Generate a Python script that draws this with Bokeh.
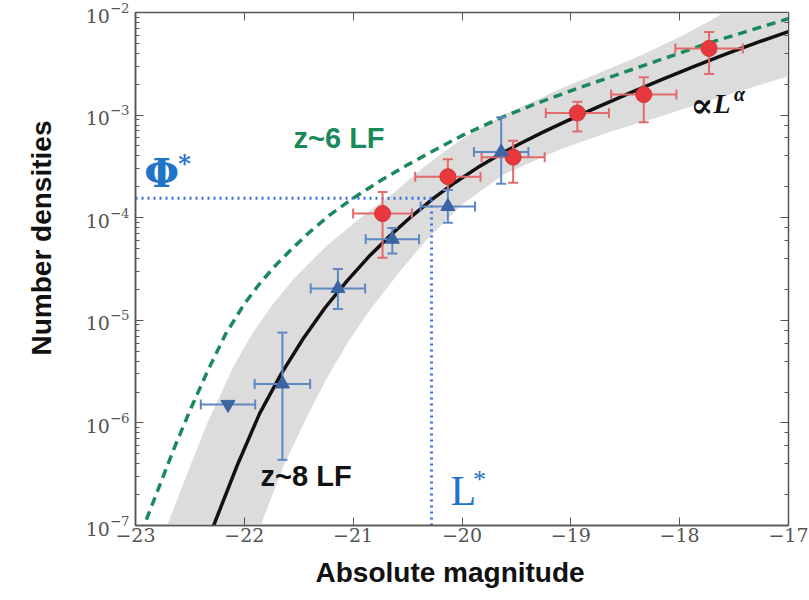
import numpy as np
from bokeh.plotting import figure
from bokeh.models import Range1d, FixedTicker, LogTicker, LinearAxis, LogAxis, Label, Title, CustomJSTickFormatter
from bokeh.embed import file_html
from bokeh.resources import INLINE

# ---------------- data ----------------
x_ticks = [-23, -22, -21, -20, -19, -18, -17]

# z~8 best-fit Schechter curve (magnitude, log10 number density)
fit8_mag = [-22.30, -22.26, -22.06, -21.86, -21.66, -21.46, -21.26, -21.06, -20.86, -20.66,
            -20.46, -20.26, -20.06, -19.86, -19.66, -19.46, -19.26, -19.06, -18.76, -18.46,
            -18.16, -17.86, -17.56, -17.26, -17.0]
fit8_log = [-7.05, -6.94, -6.40, -5.91, -5.52, -5.18, -4.88, -4.62, -4.384, -4.174,
            -3.984, -3.81, -3.654, -3.514, -3.388, -3.274, -3.168, -3.068, -2.924, -2.786,
            -2.651, -2.522, -2.399, -2.282, -2.186]

# z~6 LF (dashed)
lf6_mag = [-22.95, -22.80, -22.65, -22.50, -22.34, -22.17, -22.0, -21.85, -21.70, -21.55,
           -21.40, -21.21, -21.0, -20.75, -20.5, -20.32, -20.0, -19.65, -19.30, -18.94,
           -18.34, -17.74, -17.0]
lf6_log = [-7.08, -6.67, -6.26, -5.88, -5.50, -5.13, -4.84, -4.63, -4.45, -4.29,
           -4.14, -3.97, -3.81, -3.64, -3.485, -3.38, -3.20, -3.03, -2.88, -2.74,
           -2.52, -2.30, -2.06]

# uncertainty band edges
band_up_mag = [-22.75, -22.71, -22.49, -22.34, -22.10, -21.92, -21.75, -21.55, -21.24,
               -20.93, -20.63, -20.32, -20.01, -19.60, -19.09, -18.63, -18.36, -18.0,
               -17.72, -17.0]
band_up_log = [-7.1, -7.0, -6.40, -6.00, -5.45, -5.12, -4.86, -4.60, -4.27,
               -4.00, -3.76, -3.48, -3.24, -2.99, -2.74, -2.54, -2.42, -2.24,
               -2.08, -1.62]
band_lo_mag = [-21.90, -21.85, -21.64, -21.42, -21.24, -21.04, -20.84, -20.56, -20.32,
               -20.01, -19.62, -19.09, -18.63, -18.17, -17.73, -17.0]
band_lo_log = [-7.1, -7.0, -6.42, -5.93, -5.56, -5.20, -4.89, -4.51, -4.21,
               -3.88, -3.58, -3.33, -3.16, -3.01, -2.86, -2.62]

# red circles
red_mag = [-20.73, -20.13, -19.53, -18.94, -18.33, -17.73]
red_log = [-3.96, -3.60, -3.41, -2.98, -2.80, -2.35]
red_log_lo = [-4.39, -3.73, -3.66, -3.16, -3.07, -2.60]
red_log_hi = [-3.75, -3.43, -3.25, -2.87, -2.63, -2.19]
red_mag_err = [0.27, 0.30, 0.29, 0.29, 0.30, 0.31]

# blue triangles
blue_mag = [-21.65, -21.14, -20.64, -20.13, -19.64]
blue_log = [-5.62, -4.69, -4.21, -3.89, -3.36]
blue_log_lo = [-6.36, -4.89, -4.35, -4.05, -3.67]
blue_log_hi = [-5.12, -4.50, -4.10, -3.73, -3.02]
blue_mag_err = [0.255, 0.25, 0.245, 0.25, 0.25]

# blue upper limit (inverted triangle)
lim_mag = [-22.15]
lim_log = [-5.82]
lim_mag_err = [0.25]

# characteristic values
M_star = -20.28
phi_star = 1.55e-4

def p10(a):
    return [10.0 ** v for v in a]

# ---------------- figure ----------------
p = figure(width=809, height=600, x_range=Range1d(-23, -17), y_range=Range1d(1e-7, 1e-2),
           y_axis_type="log", output_backend="svg", toolbar_location=None,
           min_border_left=135, min_border_right=21, min_border_top=12, min_border_bottom=75)
p.grid.visible = False
p.outline_line_color = "#555555"
p.outline_line_width = 1.5
p.background_fill_color = "white"

axis_col = "#555555"
tick_font = "DejaVu Serif"

p.xaxis.ticker = FixedTicker(ticks=x_ticks, minor_ticks=[])
p.xaxis.formatter = CustomJSTickFormatter(code="return (tick < 0 ? '\u2212' : '') + Math.abs(tick);")
for ax in [p.xaxis[0], p.yaxis[0]]:
    ax.axis_line_color = axis_col
    ax.axis_line_width = 1.5
    ax.major_tick_line_color = axis_col
    ax.minor_tick_line_color = axis_col
    ax.major_tick_in = 8
    ax.major_tick_out = 0
    ax.minor_tick_in = 4
    ax.minor_tick_out = 0
    ax.major_label_text_font = tick_font
    ax.major_label_text_font_size = "19px"
    ax.major_label_text_color = "#555555"
p.xaxis.major_label_standoff = 2
p.yaxis.major_label_standoff = 6

blank = CustomJSTickFormatter(code="return '';")
top = LinearAxis(ticker=FixedTicker(ticks=x_ticks, minor_ticks=[]), formatter=blank,
                 major_label_text_font_size="2px", major_label_standoff=0,
                 axis_line_color=axis_col, major_tick_line_color=axis_col,
                 major_tick_in=8, major_tick_out=0)
p.add_layout(top, "above")
right = LogAxis(ticker=LogTicker(), formatter=CustomJSTickFormatter(code="return '';"),
                major_label_text_font_size="2px", major_label_standoff=0,
                axis_line_color=axis_col, major_tick_line_color=axis_col,
                minor_tick_line_color=axis_col,
                major_tick_in=8, major_tick_out=0, minor_tick_in=4, minor_tick_out=0)
p.add_layout(right, "right")

# axis titles
p.add_layout(Title(text="Absolute magnitude", align="left", offset=180, standoff=21,
                   text_font="Liberation Sans", text_font_style="bold", text_font_size="28px",
                   text_color="#111111"), "below")
p.add_layout(Title(text="Number densities", align="left", offset=170, standoff=48,
                   vertical_align="top",
                   text_font="Liberation Sans", text_font_style="bold", text_font_size="28px",
                   text_color="#111111"), "left")

# band
band_x = band_up_mag + band_lo_mag[::-1]
band_y = p10(band_up_log) + p10(band_lo_log)[::-1]
p.patch(band_x, band_y, fill_color="#dcdcdc", line_color=None)

# curves
p.line(fit8_mag, p10(fit8_log), line_color="#111111", line_width=3.5, line_join="round")
p.line(lf6_mag, p10(lf6_log), line_color="#1b8a5a", line_width=3.5, line_dash="9 6")

# phi*, L* dotted guides
dot_col = "#3d6fdc"
p.line([-23, M_star], [phi_star, phi_star], line_color=dot_col, line_width=3, line_dash="2 4")
p.line([M_star, M_star], [1e-7, phi_star], line_color=dot_col, line_width=3, line_dash="2 4")

# error bars
def errbars(mag, lg, lo, hi, merr, col):
    y = p10(lg)
    p.segment(x0=mag, y0=p10(lo), x1=mag, y1=p10(hi), line_color=col, line_width=2)
    p.segment(x0=[m - e for m, e in zip(mag, merr)], y0=y,
              x1=[m + e for m, e in zip(mag, merr)], y1=y, line_color=col, line_width=2)
    p.scatter(mag + mag, p10(lo) + p10(hi), marker="dash", size=10, line_color=col, line_width=2)
    p.scatter([m - e for m, e in zip(mag, merr)] + [m + e for m, e in zip(mag, merr)], y + y,
              marker="dash", angle=np.pi / 2, size=10, line_color=col, line_width=2)

red_bar = "#e36a6a"
blue_bar = "#5f88c2"
errbars(red_mag, red_log, red_log_lo, red_log_hi, red_mag_err, red_bar)
errbars(blue_mag, blue_log, blue_log_lo, blue_log_hi, blue_mag_err, blue_bar)
ly = p10(lim_log)
p.segment(x0=[m - e for m, e in zip(lim_mag, lim_mag_err)], y0=ly,
          x1=[m + e for m, e in zip(lim_mag, lim_mag_err)], y1=ly, line_color=blue_bar, line_width=2)
p.scatter([m - e for m, e in zip(lim_mag, lim_mag_err)] + [m + e for m, e in zip(lim_mag, lim_mag_err)],
          ly + ly, marker="dash", angle=np.pi / 2, size=10, line_color=blue_bar, line_width=2)

# markers
p.scatter(red_mag, p10(red_log), marker="circle", size=16, fill_color="#e8383d", line_color="#c93a3a")
p.scatter(blue_mag, p10(blue_log), marker="triangle", size=14, fill_color="#3a64a2", line_color="#3a64a2")
p.scatter(lim_mag, ly, marker="inverted_triangle", size=14, fill_color="#3a64a2", line_color="#3a64a2")

# text annotations
blue_txt = "#1f74c9"
p.add_layout(Label(x=-22.76, y=10 ** -3.56, text="Φ", text_font="DejaVu Serif", text_font_style="bold",
                   text_font_size="40px", text_color=blue_txt, text_align="center", text_baseline="middle"))
p.add_layout(Label(x=-22.55, y=10 ** -3.47, text="*", text_font="DejaVu Serif", text_font_style="bold",
                   text_font_size="24px", text_color=blue_txt, text_align="center", text_baseline="middle"))
p.add_layout(Label(x=-21.548, y=10 ** -3.228, text="z~6 LF", text_font="Liberation Sans", text_font_style="bold",
                   text_font_size="29px", text_color="#1b8a5a", text_align="left", text_baseline="middle"))
p.add_layout(Label(x=-21.851, y=10 ** -6.513, text="z~8 LF", text_font="Liberation Sans", text_font_style="bold",
                   text_font_size="29px", text_color="#111111", text_align="left", text_baseline="middle"))
p.add_layout(Label(x=-20.105, y=10 ** -6.659, text="L", text_font="Liberation Serif",
                   text_font_size="42px", text_color=blue_txt, text_align="left", text_baseline="middle"))
p.add_layout(Label(x=-19.90, y=10 ** -6.55, text="*", text_font="Liberation Serif",
                   text_font_size="26px", text_color=blue_txt, text_align="left", text_baseline="middle"))
p.add_layout(Label(x=-17.90, y=10 ** -2.90, text="∝", text_font="DejaVu Serif", text_font_style="bold",
                   text_font_size="34px", text_color="#111111", text_align="left", text_baseline="middle"))
p.add_layout(Label(x=-17.69, y=10 ** -2.887, text="L", text_font="Liberation Serif", text_font_style="bold italic",
                   text_font_size="28px", text_color="#111111", text_align="left", text_baseline="middle"))
p.add_layout(Label(x=-17.50, y=10 ** -2.79, text="α", text_font="Liberation Serif", text_font_style="bold italic",
                   text_font_size="20px", text_color="#111111", text_align="left", text_baseline="middle"))

open("out.html", "w").write(file_html(p, INLINE))
